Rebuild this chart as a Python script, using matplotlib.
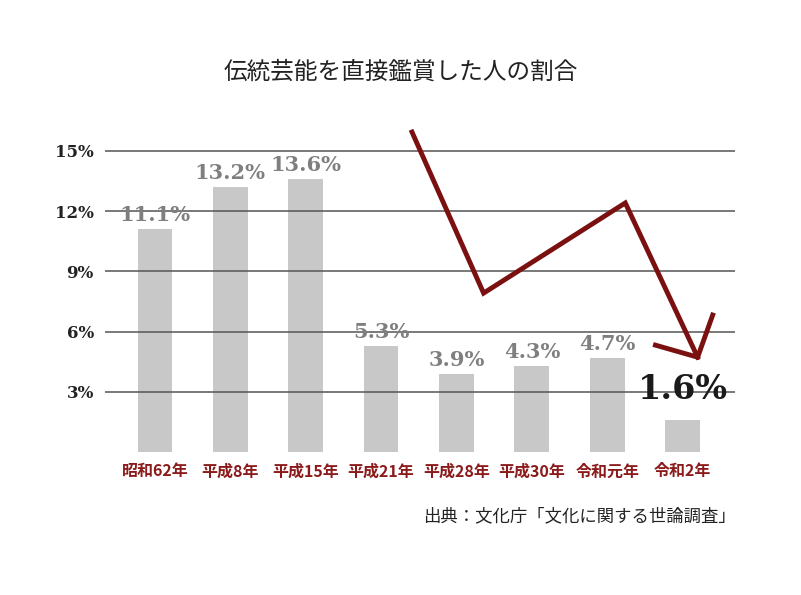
import matplotlib
matplotlib.use("Agg")
import matplotlib.pyplot as plt

plt.rcParams['font.family'] = ['Noto Sans CJK JP', 'DejaVu Sans']

categories = ["昭和62年", "平成8年", "平成15年", "平成21年", "平成28年", "平成30年", "令和元年", "令和2年"]
values = [11.1, 13.2, 13.6, 5.3, 3.9, 4.3, 4.7, 1.6]
yticks = [3, 6, 9, 12, 15]
arrow_x = [3.41, 4.36, 6.24, 7.2]
arrow_y = [15.94, 7.92, 12.41, 4.73]
head_x = [6.64, 7.2, 7.40]
head_y = [5.33, 4.73, 6.83]

fig = plt.figure(figsize=(8.01, 5.95), dpi=100)
ax = fig.add_axes([0.131, 0.240, 0.787, 0.557])
x = list(range(len(categories)))
ax.bar(x, values, width=0.46, color="#c8c8c8", zorder=1)
ax.set_xlim(-0.664, 7.70)
ax.set_ylim(0, 16.5)
for t in yticks:
    ax.axhline(t, color="#555555", lw=1.1, zorder=2)
ax.set_yticks(yticks)
ax.set_yticklabels([f"{t}%" for t in yticks], fontsize=12, fontweight="bold", color="#222222",
                   family="DejaVu Serif")
ax.set_xticks(x)
ax.set_xticklabels(categories, fontsize=11.5, fontweight="bold", color="#8b1a1a")
ax.tick_params(length=0, pad=8)
for s in ax.spines.values():
    s.set_visible(False)
for i, v in enumerate(values[:-1]):
    ax.text(i, v + 0.2, f"{v}%", ha="center", va="bottom", fontsize=15, fontweight="bold",
            color="#7f7f7f", zorder=3, family="DejaVu Serif")
ax.text(7, 2.3, f"{values[-1]}%", ha="center", va="bottom", fontsize=24, fontweight="bold",
        color="#1a1a1a", zorder=3, family="DejaVu Serif")
ax.plot(arrow_x, arrow_y, color="#7a1010", lw=3.5, clip_on=False, zorder=4, solid_joinstyle="miter")
ax.plot(head_x, head_y, color="#7a1010", lw=3.5, clip_on=False, zorder=4, solid_joinstyle="miter")
fig.text(0.5, 0.878, "伝統芸能を直接鑑賞した人の割合", ha="center", va="center", fontsize=17, color="#222222")
fig.text(0.918, 0.132, "出典：文化庁「文化に関する世論調査」", ha="right", va="center", fontsize=12.5, color="#222222")
fig.savefig("out.png", dpi=100, facecolor="white")
